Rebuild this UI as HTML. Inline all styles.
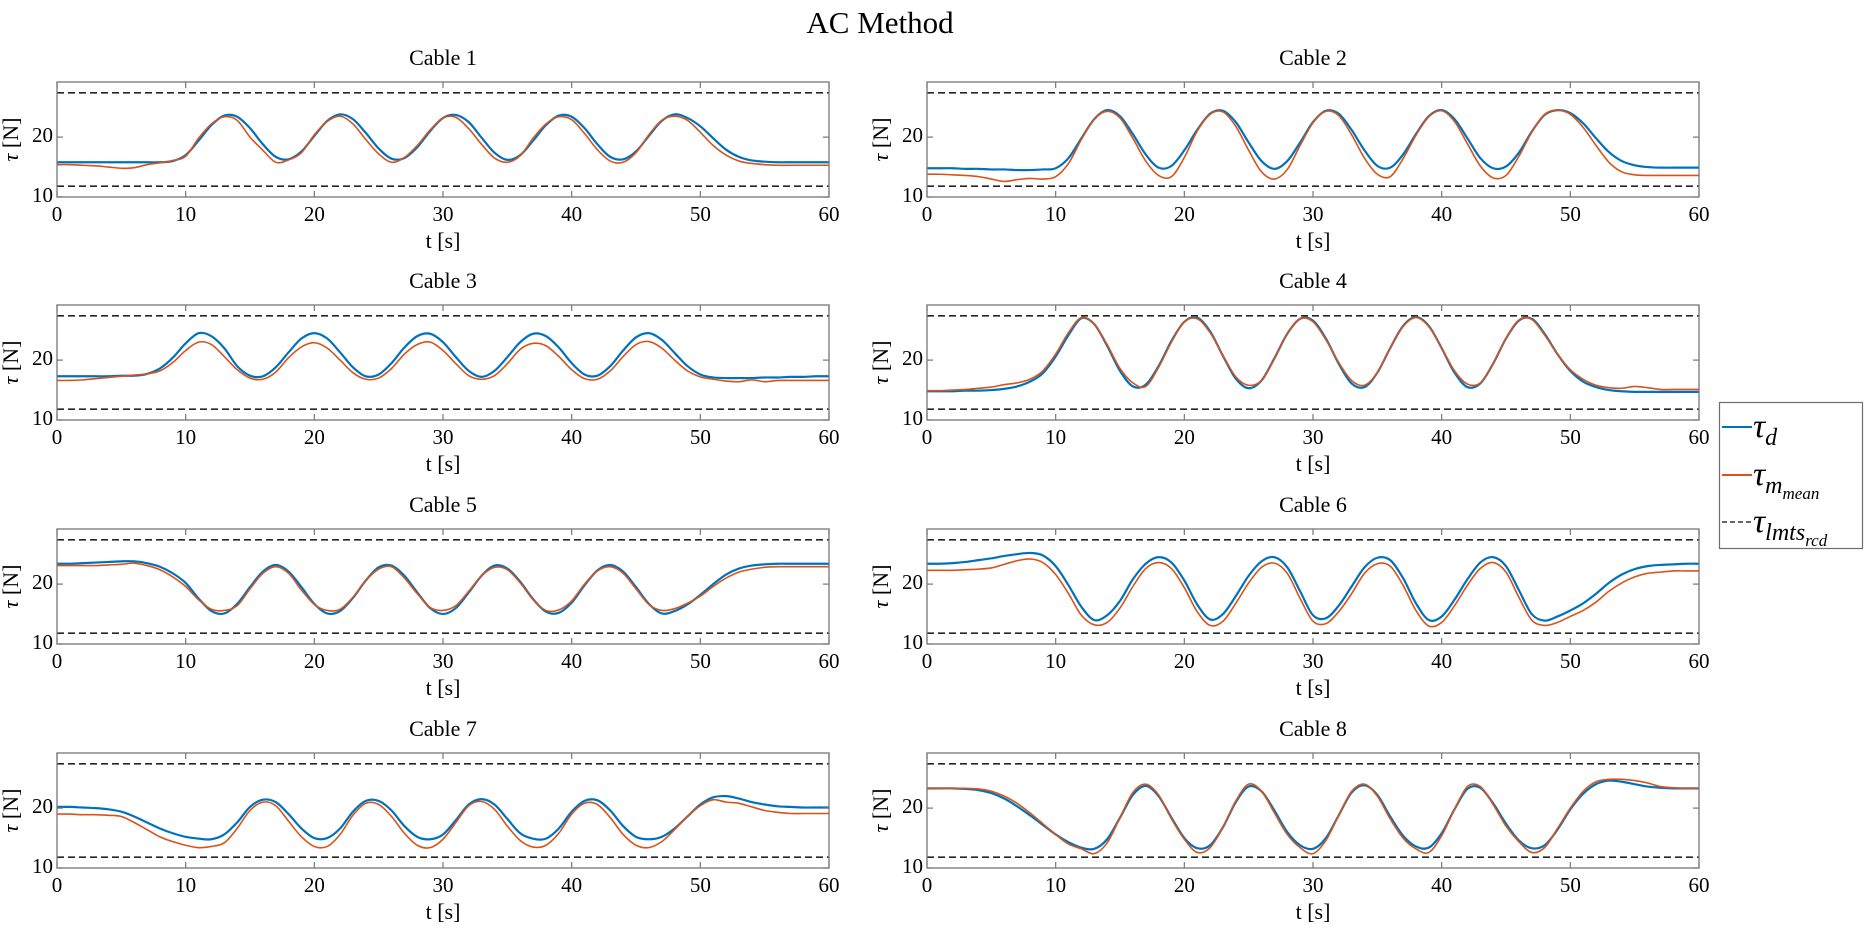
<!DOCTYPE html>
<html><head><meta charset="utf-8"><title>AC Method</title>
<style>
html,body{margin:0;padding:0;background:#fff;}
svg{display:block;}
text{font-family:"Liberation Serif",serif;fill:#000;}
</style></head>
<body>
<svg id="fig" width="1864" height="930" viewBox="0 0 1864 930" xmlns="http://www.w3.org/2000/svg">
<text x="880" y="26" font-size="31" text-anchor="middle" dominant-baseline="middle">AC Method</text>
<g id="plots"></g>
<g>
<rect x="1719.5" y="402.5" width="143" height="146" fill="#fff" stroke="#6e6e6e" stroke-width="1.2"/>
<g>
<line x1="1722" y1="427" x2="1752" y2="427" stroke="#0072BD" stroke-width="2"/>
<text x="1753" y="437" font-size="34" font-style="italic">τ<tspan font-size="24" dy="8">d</tspan></text>
</g>
<g>
<line x1="1722" y1="475" x2="1752" y2="475" stroke="#D95319" stroke-width="2"/>
<text x="1753" y="485" font-size="34" font-style="italic">τ<tspan font-size="24" dy="8">m</tspan><tspan font-size="17" dy="6">mean</tspan></text>
</g>
<g>
<line x1="1722" y1="522" x2="1752" y2="522" stroke="#333" stroke-width="1.5" stroke-dasharray="5,3"/>
<text x="1753" y="532" font-size="34" font-style="italic">τ<tspan font-size="24" dy="8">lmts</tspan><tspan font-size="17" dy="6">rcd</tspan></text>
</g>
</g>
</svg>
<script>
const times = Array.from({length:61},(_, i)=>i);
const xTicks = [0,10,20,30,40,50,60];
const yTicks = [10,20];
const limitUpper = 27.4;
const limitLower = 11.8;
const cableTitles = ["Cable 1","Cable 2","Cable 3","Cable 4","Cable 5","Cable 6","Cable 7","Cable 8"];

const desired1 = [15.8,15.8,15.8,15.8,15.8,15.8,15.8,15.8,15.8,16.0,17.0,19.4,22.0,23.6,23.4,21.5,18.8,16.7,16.3,17.6,20.2,22.7,23.8,23.0,20.7,18.1,16.4,16.5,18.3,21.0,23.2,23.7,22.5,19.9,17.4,16.2,17.0,19.4,22.0,23.6,23.4,21.5,18.8,16.7,16.3,17.6,20.2,22.7,23.8,23.2,21.8,19.8,17.9,16.7,16.1,15.9,15.8,15.8,15.8,15.8,15.8];
const measured1 = [15.4,15.4,15.3,15.2,15.0,14.8,14.9,15.4,15.7,16.1,16.8,19.8,22.2,23.4,22.8,20.0,17.8,15.8,16.2,17.4,20.4,22.6,23.5,22.2,19.6,17.2,15.8,16.6,18.6,21.2,23.2,23.3,21.4,18.8,16.5,15.8,16.9,19.8,22.2,23.4,22.9,20.6,17.9,16.0,15.8,17.4,20.4,22.8,23.5,22.8,20.8,18.6,17.0,16.0,15.6,15.4,15.3,15.3,15.3,15.3,15.3];
const desired2 = [14.8,14.8,14.8,14.7,14.7,14.6,14.6,14.5,14.5,14.6,14.8,16.5,19.8,23.0,24.5,23.5,20.5,17.1,14.9,15.2,17.8,21.2,23.9,24.4,22.5,19.1,16.0,14.7,16.0,19.1,22.5,24.4,23.9,21.2,17.8,15.2,14.9,17.1,20.5,23.5,24.5,23.0,19.8,16.5,14.8,15.1,17.4,20.9,23.7,24.5,24.0,22.3,19.8,17.5,16.0,15.3,15.0,14.9,14.9,14.9,14.9];
const measured2 = [13.8,13.8,13.7,13.6,13.4,13.0,12.6,12.9,13.1,13.0,13.4,15.6,19.6,23.0,24.3,23.2,19.8,16.0,13.6,13.4,16.6,21.0,23.8,24.2,21.8,17.8,14.2,13.0,14.6,18.6,22.4,24.3,23.6,20.4,16.5,13.8,13.4,16.4,20.3,23.4,24.4,22.6,18.9,15.2,13.2,13.6,16.8,20.8,23.8,24.5,23.8,21.6,18.6,15.8,14.2,13.7,13.6,13.6,13.6,13.6,13.6];
const desired3 = [17.3,17.3,17.3,17.3,17.3,17.4,17.4,17.7,18.6,20.4,22.8,24.5,24.0,22.0,19.0,17.4,17.3,18.8,21.3,23.6,24.5,23.6,21.3,18.8,17.3,17.6,19.5,22.1,24.0,24.4,23.0,20.5,18.2,17.2,18.2,20.5,23.0,24.4,24.0,22.1,19.5,17.6,17.4,19.0,21.6,23.8,24.5,23.4,21.2,19.0,17.6,17.1,17.0,17.0,17.0,17.1,17.1,17.2,17.2,17.3,17.3];
const measured3 = [16.6,16.6,16.7,16.9,17.1,17.3,17.5,17.7,18.2,19.6,21.6,23.0,22.6,20.6,18.4,17.0,16.8,18.0,20.4,22.2,22.9,22.0,20.0,17.9,16.8,17.0,18.6,21.0,22.6,23.0,21.6,19.4,17.4,16.8,17.4,19.4,21.8,22.8,22.4,20.6,18.4,16.9,16.8,18.2,20.6,22.6,23.1,22.0,20.0,18.2,17.2,16.8,16.5,16.4,16.7,16.4,16.6,16.6,16.6,16.6,16.6];
const desired4 = [14.8,14.8,14.8,14.9,14.9,15.0,15.2,15.6,16.4,17.8,20.6,24.2,27.0,26.0,22.4,18.2,15.6,15.9,19.0,23.2,26.4,27.1,24.8,20.7,16.9,15.3,16.6,20.3,24.4,26.9,26.6,23.6,19.4,16.1,15.5,17.9,22.0,25.7,27.2,25.7,22.0,17.9,15.5,16.1,19.4,23.6,26.6,26.9,24.4,21.0,18.2,16.4,15.5,15.0,14.8,14.7,14.7,14.7,14.7,14.7,14.7];
const measured4 = [14.9,14.9,15.0,15.1,15.3,15.5,15.9,16.2,16.8,18.2,21.0,24.6,27.1,26.0,22.6,18.6,16.2,15.6,18.8,23.0,26.4,26.9,24.6,20.8,17.2,15.8,16.6,20.2,24.4,26.9,26.4,23.4,19.6,16.6,15.8,17.9,22.0,25.6,27.1,25.6,22.0,18.2,16.0,16.2,19.4,23.6,26.7,26.8,24.2,21.0,18.4,16.8,15.8,15.4,15.3,15.6,15.4,15.1,15.1,15.1,15.1];
const desired5 = [23.4,23.4,23.5,23.6,23.7,23.8,23.8,23.5,22.9,21.8,20.2,17.6,15.5,15.1,16.7,19.5,22.1,23.2,22.1,19.5,16.7,15.1,15.5,17.7,20.6,22.8,23.1,21.4,18.6,16.0,15.0,16.0,18.6,21.4,23.1,22.6,20.4,17.5,15.4,15.2,16.9,19.8,22.3,23.2,22.1,19.5,16.7,15.1,15.5,16.6,18.2,20.0,21.6,22.6,23.1,23.3,23.4,23.4,23.4,23.4,23.4];
const measured5 = [23.1,23.1,23.1,23.1,23.2,23.3,23.5,23.1,22.4,21.2,19.6,17.4,15.8,15.6,16.4,19.2,21.8,22.9,21.8,19.0,16.6,15.6,15.8,17.8,20.6,22.5,22.9,21.0,18.4,16.1,15.6,16.4,18.8,21.4,22.8,22.4,20.2,17.4,15.6,15.7,17.2,20.0,22.2,22.9,21.8,19.2,16.6,15.6,15.9,16.8,18.0,19.6,21.0,22.0,22.5,22.8,22.9,22.9,22.9,22.9,22.9];
const desired6 = [23.4,23.4,23.5,23.7,24.0,24.3,24.7,25.0,25.2,24.8,23.0,19.8,16.2,14.0,14.8,17.2,20.8,23.4,24.5,23.6,20.6,16.6,14.1,15.0,18.0,21.4,23.8,24.5,22.8,18.8,14.8,14.3,16.4,19.6,22.8,24.4,24.0,21.0,16.8,14.0,14.6,17.4,20.8,23.6,24.5,23.0,19.0,15.0,13.9,14.6,15.6,16.8,18.4,20.2,21.6,22.5,23.0,23.2,23.3,23.4,23.4];
const measured6 = [22.3,22.3,22.3,22.4,22.5,22.7,23.3,23.9,24.2,23.6,21.6,18.4,14.8,13.2,13.6,16.0,19.6,22.6,23.6,22.6,19.4,15.4,13.1,13.8,16.8,20.2,22.8,23.5,21.8,17.6,13.8,13.4,15.4,18.4,21.8,23.4,23.0,19.8,15.6,13.0,13.6,16.4,19.8,22.6,23.6,22.0,17.8,14.0,13.1,13.6,14.6,15.6,17.0,18.8,20.2,21.2,21.8,22.0,22.2,22.2,22.2];
const desired7 = [20.2,20.2,20.1,20.0,19.8,19.4,18.6,17.6,16.6,15.8,15.2,14.9,14.8,15.6,17.6,20.2,21.4,21.0,19.0,16.6,15.0,15.0,16.6,19.4,21.2,21.2,19.6,17.0,15.2,14.8,15.6,18.0,20.6,21.5,20.6,18.2,15.8,14.9,14.9,16.6,19.4,21.2,21.3,19.6,17.0,15.2,14.8,15.2,16.6,18.6,20.6,21.8,22.0,21.6,21.0,20.6,20.3,20.2,20.1,20.1,20.1];
const measured7 = [19.0,19.0,18.9,18.9,18.8,18.6,17.6,16.4,15.2,14.4,13.8,13.4,13.6,14.2,16.6,19.6,21.0,20.4,17.8,15.2,13.6,13.6,15.6,18.8,20.8,20.6,18.6,15.8,13.8,13.4,14.8,17.6,20.4,21.1,19.8,17.0,14.6,13.5,13.8,15.8,19.0,20.8,20.6,18.4,15.6,13.8,13.4,14.4,16.4,18.6,20.4,21.4,21.0,20.8,20.2,19.6,19.3,19.1,19.1,19.1,19.1];
const desired8 = [23.3,23.3,23.3,23.2,23.0,22.5,21.6,20.3,18.8,17.2,15.6,14.3,13.4,13.2,14.8,18.4,22.2,23.7,22.0,18.4,15.0,13.3,13.8,16.8,21.0,23.6,22.8,19.6,16.0,13.8,13.2,15.0,18.8,22.6,23.8,22.2,18.6,15.4,13.6,13.4,15.8,19.8,23.2,23.4,20.8,17.4,14.6,13.3,13.8,16.4,19.8,22.4,24.0,24.6,24.4,24.0,23.6,23.4,23.3,23.3,23.3];
const measured8 = [23.3,23.3,23.3,23.3,23.2,22.8,22.0,20.8,19.2,17.4,15.6,14.0,13.2,12.4,14.2,18.4,22.6,24.0,22.2,18.2,14.8,12.6,13.4,16.8,21.2,24.0,22.8,19.2,15.6,13.4,12.4,14.6,18.8,22.8,24.0,22.0,18.2,15.0,13.2,12.6,15.4,19.8,23.6,23.6,20.6,17.0,14.4,12.6,13.4,16.6,20.0,22.8,24.4,24.8,24.8,24.6,24.2,23.6,23.4,23.3,23.3];

const desiredSeries = [desired1,desired2,desired3,desired4,desired5,desired6,desired7,desired8];
const measuredSeries = [measured1,measured2,measured3,measured4,measured5,measured6,measured7,measured8];

const NS = "http://www.w3.org/2000/svg";
const colLeft = [57, 927];
const plotW = 772;
const rowTop = [82, 305, 529, 753];
const plotH = 115;
const yMin = 10, yMax = 29.2, xMin = 0, xMax = 60;

function mk(tag, attrs, parent){
  const e = document.createElementNS(NS, tag);
  for (const k in attrs) e.setAttribute(k, attrs[k]);
  parent.appendChild(e);
  return e;
}
function smoothPath(pts){
  let d = "M" + pts[0][0].toFixed(2) + "," + pts[0][1].toFixed(2);
  for (let i = 0; i < pts.length - 1; i++){
    const p0 = pts[Math.max(0,i-1)], p1 = pts[i], p2 = pts[i+1], p3 = pts[Math.min(pts.length-1,i+2)];
    const c1x = p1[0] + (p2[0]-p0[0])/6, c1y = p1[1] + (p2[1]-p0[1])/6;
    const c2x = p2[0] - (p3[0]-p1[0])/6, c2y = p2[1] - (p3[1]-p1[1])/6;
    d += " C" + c1x.toFixed(2)+","+c1y.toFixed(2)+" "+c2x.toFixed(2)+","+c2y.toFixed(2)+" "+p2[0].toFixed(2)+","+p2[1].toFixed(2);
  }
  return d;
}

const root = document.getElementById("plots");
for (let k = 0; k < 8; k++){
  const left = colLeft[k % 2], top = rowTop[Math.floor(k / 2)];
  const xs = v => left + (v - xMin) / (xMax - xMin) * plotW;
  const ys = v => top + plotH - (v - yMin) / (yMax - yMin) * plotH;
  const g = mk("g", {}, root);
  
  

  mk("rect", {x:left, y:top, width:plotW, height:plotH, fill:"#fff"}, g);

  const title = mk("text", {x:left + plotW/2, y:top - 22, "font-size":22, "text-anchor":"middle", "dominant-baseline":"middle"}, g);
  title.textContent = cableTitles[k];
  
  

  // limits
  [limitUpper, limitLower].forEach((lv, j) => {
    const l = mk("line", {x1:left, x2:left+plotW, y1:ys(lv), y2:ys(lv), stroke:"#262626", "stroke-width":1.6, "stroke-dasharray":"7,4"}, g);
    
    
  });

  const bp = times.map((t, i) => [xs(t), ys(desiredSeries[k][i])]);
  const blue = mk("path", {d:smoothPath(bp), fill:"none", stroke:"#0072BD", "stroke-width":2.2}, g);
  
  

  const op = times.map((t, i) => [xs(t), ys(measuredSeries[k][i])]);
  const orange = mk("path", {d:smoothPath(op), fill:"none", stroke:"#D95319", "stroke-width":1.6}, g);
  
  

  // axes box
  const box = mk("rect", {x:left, y:top, width:plotW, height:plotH, fill:"none", stroke:"#777", "stroke-width":1.3}, g);
  
  

  xTicks.forEach(tv => {
    const x = xs(tv);
    mk("line", {x1:x, x2:x, y1:top+plotH, y2:top+plotH-6, stroke:"#777", "stroke-width":1.2}, g);
    mk("line", {x1:x, x2:x, y1:top, y2:top+6, stroke:"#777", "stroke-width":1.2}, g);
    const t = mk("text", {x:x, y:top+plotH+19, "font-size":21, "text-anchor":"middle", "dominant-baseline":"middle"}, g);
    t.textContent = tv;
    
    
  });
  yTicks.forEach(tv => {
    const y = ys(tv);
    mk("line", {x1:left, x2:left+6, y1:y, y2:y, stroke:"#777", "stroke-width":1.2}, g);
    mk("line", {x1:left+plotW, x2:left+plotW-6, y1:y, y2:y, stroke:"#777", "stroke-width":1.2}, g);
    const t = mk("text", {x:left-4, y:y, "font-size":21, "text-anchor":"end", "dominant-baseline":"middle"}, g);
    t.textContent = tv;
    
    
  });

  const xl = mk("text", {x:left + plotW/2, y:top+plotH+46, "font-size":22, "text-anchor":"middle", "dominant-baseline":"middle"}, g);
  xl.textContent = "t [s]";
  
  

  const yl = mk("text", {x:0, y:0, "font-size":22, "text-anchor":"middle", "dominant-baseline":"middle", transform:"translate(" + (left-44) + "," + (top+plotH/2) + ") rotate(-90)"}, g);
  yl.innerHTML = '<tspan font-style="italic">τ</tspan> [N]';
  
  
}
</script>
</body></html>
